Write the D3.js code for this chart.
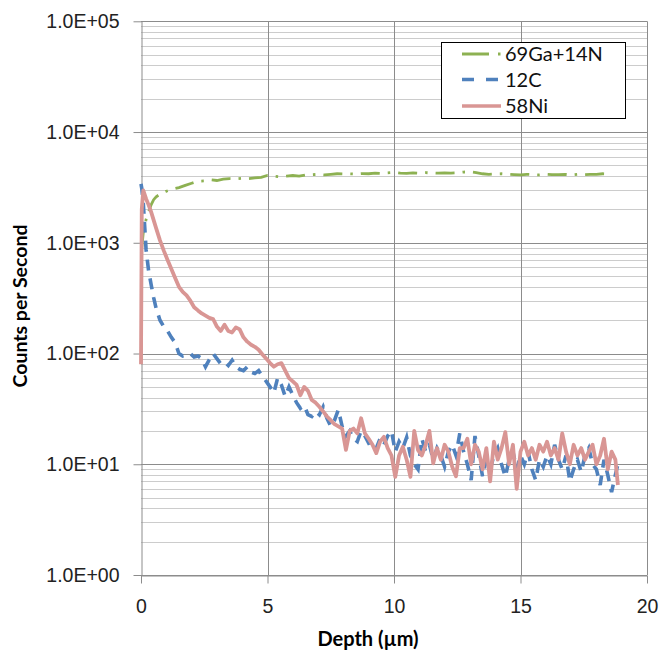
<!DOCTYPE html>
<html>
<head>
<meta charset="utf-8">
<script src="https://cdn.jsdelivr.net/npm/d3@7"></script>
<style>
    body { margin: 0; background: #fff; }
    svg { display: block; font-family: Lato, "Open Sans", sans-serif; }
</style>
</head>
<body>
<div id="chartdiv"></div>
<script>
/*global d3 */

//depth points shared by the 12C and 58Ni profiles (um)
var depth = [0, 0.03, 0.09, 0.2, 0.3, 0.4, 0.5,
    0.6, 0.75, 0.9, 1.05, 1.2, 1.35, 1.5, 1.65, 1.8, 1.95, 2.1, 2.25,
    2.4, 2.55, 2.7, 2.85, 3.0, 3.15, 3.3, 3.45, 3.6, 3.75, 3.9, 4.05,
    4.2, 4.35, 4.5, 4.65, 4.8, 4.95, 5.1, 5.25, 5.4, 5.55, 5.7, 5.85,
    6.0, 6.15, 6.3, 6.45, 6.6, 6.75, 6.9, 7.05, 7.2, 7.35, 7.5, 7.65,
    7.8, 7.95, 8.1, 8.25, 8.4, 8.55, 8.7, 8.85, 9.0, 9.15, 9.3, 9.45,
    9.6, 9.75, 9.9, 10.05, 10.2, 10.35, 10.5, 10.65, 10.8, 10.95, 11.1,
    11.25, 11.4, 11.55, 11.7, 11.85, 12.0, 12.15, 12.3, 12.45, 12.6,
    12.75, 12.9, 13.05, 13.2, 13.35, 13.5, 13.65, 13.8, 13.95, 14.1,
    14.25, 14.4, 14.55, 14.7, 14.85, 15.0, 15.15, 15.3, 15.45, 15.6,
    15.75, 15.9, 16.05, 16.2, 16.35, 16.5, 16.65, 16.8, 16.95, 17.1,
    17.25, 17.4, 17.55, 17.7, 17.85, 18.0, 18.15, 18.3, 18.45, 18.6,
    18.75, 18.85];

var c12 = [3400, 3100, 2300, 870, 560, 420, 320,
    255, 200, 175, 160, 140, 125, 100, 95, 97, 100, 93, 95,
    90, 76, 88, 100, 90, 81, 84, 78, 87, 76, 72, 70,
    76, 68, 66, 70, 62, 56, 50, 44, 60, 52, 41, 50,
    42, 36, 32, 34, 28, 27, 30, 28, 33, 26, 22, 25,
    31, 22, 18, 20, 17, 16, 20, 18, 15.5, 16, 14, 17,
    15, 18, 20, 13, 16, 14, 17.5, 12, 10, 9, 17,
    13, 15, 11, 14, 12, 9.5, 13, 15, 12, 19,
    13, 10, 7.2, 18, 12, 7.8, 11, 9, 12, 14,
    10, 7.7, 11, 13, 9, 12, 10, 13, 9, 7.2,
    11, 9.5, 12, 10, 15, 11, 9, 12, 7, 9,
    11, 8.5, 12, 14, 10, 9, 6.5, 11, 8, 5.6,
    8, 10];

var ni58 = [80, 2000, 2970, 2500, 2200, 1900, 1600,
    1350, 1050, 850, 700, 580, 480, 400, 360, 335, 300, 262, 245,
    230, 220, 210, 205, 175, 160, 182, 160, 155, 172, 165, 140,
    128, 120, 115, 108, 98, 90, 82, 76, 80, 82, 70, 60,
    56, 52, 42, 50, 46, 38, 36, 33, 30, 27, 25, 23,
    22, 21, 13.5, 20, 21, 19, 26, 19, 17, 15, 12.6, 16,
    17.7, 14, 12, 7.7, 12, 14.4, 11, 7.7, 20, 13.4, 12,
    15, 20, 10.2, 14, 11, 15, 13, 9.5, 7.8, 14,
    14, 17, 10, 15, 13, 9, 14, 7, 16, 11,
    14, 19.5, 10, 15, 6, 13, 16, 12, 14, 11,
    15, 13, 16, 12, 14, 11, 19, 13, 10, 15,
    12, 14, 11, 13, 15, 10, 12, 17, 9, 13,
    11, 6.5];

//69Ga+14N is smoother, sampled more coarsely
var gaDepth = [0.03, 0.1, 0.2, 0.3, 0.4, 0.5, 0.6, 0.75, 1.0, 1.25,
    1.5, 1.75, 2.0, 2.25, 2.5, 2.75, 3.0, 3.25, 3.5, 3.75, 4.0, 4.25,
    4.5, 4.75, 5.0, 5.25, 5.5, 5.75, 6.0, 6.25, 6.5, 6.75, 7.0, 7.25,
    7.5, 7.75, 8.0, 8.25, 8.5, 8.75, 9.0, 9.25, 9.5, 9.75, 10.0, 10.25,
    10.5, 10.75, 11.0, 11.25, 11.5, 11.75, 12.0, 12.25, 12.5, 12.75,
    13.0, 13.25, 13.5, 13.75, 14.0, 14.25, 14.5, 14.75, 15.0, 15.25,
    15.5, 15.75, 16.0, 16.25, 16.5, 16.75, 17.0, 17.25, 17.5, 17.75,
    18.0, 18.25, 18.5, 18.6];

var ga69 = [900, 1300, 1620, 1900, 2200, 2450, 2600, 2750, 2920, 3050,
    3150, 3300, 3450, 3600, 3620, 3700, 3650, 3750, 3800, 3780, 3820, 3800,
    3850, 3900, 4050, 4000, 3950, 4000, 4050, 4000, 4100, 4120, 4150, 4100,
    4150, 4200, 4180, 4200, 4180, 4220, 4200, 4250, 4220, 4280, 4320, 4250,
    4230, 4280, 4250, 4300, 4270, 4250, 4280, 4260, 4280, 4350,
    4380, 4300, 4200, 4150, 4180, 4200, 4150, 4120, 4100, 4150,
    4120, 4100, 4150, 4120, 4130, 4150, 4100, 4150, 4120, 4150,
    4150, 4200, 4180, 4200];

var xTicks = [0, 5, 10, 15, 20];
var yTicks = [1, 10, 100, 1000, 10000, 100000];
var seriesNames = ["69Ga+14N", "12C", "58Ni"];

(function () {
    "use strict";

    var ch = {w: 661, h: 650};
    var pa = {left: 141, right: 647, top: 21.3, bottom: 575};
    var colors = {ga: "#8DB152", c: "#4F81BD", ni: "#D99694"};
    var grid = {major: "#8C8C8C", minor: "#CCCCCC"};

    function expLabel (d) {
        var e = Math.round(Math.log10(d));
        return "1.0E+" + (e < 10 ? "0" : "") + e;
    }

    function crisp (v) {
        return Math.round(v) + 0.5;
    }

    function drawGrid (svg, x, y) {
        var minors = [], g;
        yTicks.slice(0, -1).forEach(function (t) {
            d3.range(2, 10).forEach(function (m) { minors.push(t * m); });
        });
        g = svg.append("g").attr("class", "grid");
        g.selectAll("line.minor").data(minors).enter().append("line")
            .attr("class", "minor")
            .attr("x1", pa.left).attr("x2", pa.right)
            .attr("y1", function (d) { return crisp(y(d)); })
            .attr("y2", function (d) { return crisp(y(d)); })
            .attr("stroke", grid.minor);
        g.selectAll("line.hmajor").data(yTicks).enter().append("line")
            .attr("class", "hmajor")
            .attr("x1", pa.left).attr("x2", pa.right)
            .attr("y1", function (d) { return crisp(y(d)); })
            .attr("y2", function (d) { return crisp(y(d)); })
            .attr("stroke", grid.major);
        g.selectAll("line.vmajor").data(xTicks.slice(1)).enter().append("line")
            .attr("class", "vmajor")
            .attr("x1", function (d) { return crisp(x(d)); })
            .attr("x2", function (d) { return crisp(x(d)); })
            .attr("y1", pa.top).attr("y2", pa.bottom)
            .attr("stroke", grid.major);
    }

    function drawAxes (svg, x, y) {
        var yAxis, xAxis, gy, gx;
        yAxis = d3.axisLeft(y).tickValues(yTicks).tickFormat(expLabel)
            .tickSize(8).tickPadding(14).tickSizeOuter(0);
        xAxis = d3.axisBottom(x).tickValues(xTicks).tickFormat(d3.format("d"))
            .tickSize(8).tickPadding(16).tickSizeOuter(0);
        gy = svg.append("g")
            .attr("transform", "translate(" + crisp(pa.left) + ",0)")
            .call(yAxis);
        gx = svg.append("g")
            .attr("transform", "translate(0," + crisp(y(1)) + ")")
            .call(xAxis);
        [gy, gx].forEach(function (g) {
            g.select(".domain").attr("stroke", grid.major);
            g.selectAll(".tick line").attr("stroke", grid.major);
            g.selectAll(".tick text").attr("fill", "#222")
                .attr("font-size", "19.5px");
        });
        svg.append("text")
            .attr("transform", "translate(27," + 306 + ") rotate(-90)")
            .attr("text-anchor", "middle")
            .attr("font-weight", "bold")
            .attr("font-size", "19.5px")
            .text("Counts per Second");
        svg.append("text")
            .attr("x", 368).attr("y", 646)
            .attr("text-anchor", "middle")
            .attr("font-weight", "bold")
            .attr("font-size", "20px")
            .text("Depth (\u00b5m)");
    }

    function drawSeries (svg, x, y) {
        var line = d3.line()
            .x(function (d) { return x(d[0]); })
            .y(function (d) { return y(d[1]); });
        svg.append("path")
            .datum(d3.zip(gaDepth, ga69))
            .attr("d", line)
            .attr("fill", "none")
            .attr("stroke", colors.ga)
            .attr("stroke-width", 2.8)
            .attr("stroke-dasharray", "19,8,2.5,8");
        svg.append("path")
            .datum(d3.zip(depth, c12))
            .attr("d", line)
            .attr("fill", "none")
            .attr("stroke", colors.c)
            .attr("stroke-width", 3.6)
            .attr("stroke-dasharray", "11,8");
        svg.append("path")
            .datum(d3.zip(depth, ni58))
            .attr("d", line)
            .attr("fill", "none")
            .attr("stroke", colors.ni)
            .attr("stroke-width", 3.8)
            .attr("stroke-linejoin", "round");
    }

    function drawLegend (svg) {
        var lg = svg.append("g").attr("class", "legend"),
            rows = [{y: 54, c: colors.ga, dash: "27,9,2.5,9", w: 2.8},
                    {y: 79.5, c: colors.c, dash: "12,12", w: 3.4},
                    {y: 106, c: colors.ni, dash: null, w: 3.6}];
        lg.append("rect")
            .attr("x", 441.5).attr("y", 42.5)
            .attr("width", 184).attr("height", 76)
            .attr("fill", "#fff").attr("stroke", "#000");
        rows.forEach(function (r, i) {
            lg.append("line")
                .attr("x1", 462).attr("x2", 501)
                .attr("y1", r.y).attr("y2", r.y)
                .attr("stroke", r.c).attr("stroke-width", r.w)
                .attr("stroke-dasharray", r.dash);
            lg.append("text")
                .attr("x", 505).attr("y", r.y + 7)
                .attr("font-size", "20px").attr("fill", "#111")
                .text(seriesNames[i]);
        });
    }

    function display () {
        var svg, x, y;
        svg = d3.select("#chartdiv").append("svg")
            .attr("width", ch.w).attr("height", ch.h);
        x = d3.scaleLinear().domain([0, 20]).range([pa.left, pa.right]);
        y = d3.scaleLog().domain([1, 100000]).range([pa.bottom, pa.top]);
        drawGrid(svg, x, y);
        drawAxes(svg, x, y);
        drawSeries(svg, x, y);
        drawLegend(svg);
    }

    display();
}());
</script>
</body>
</html>
